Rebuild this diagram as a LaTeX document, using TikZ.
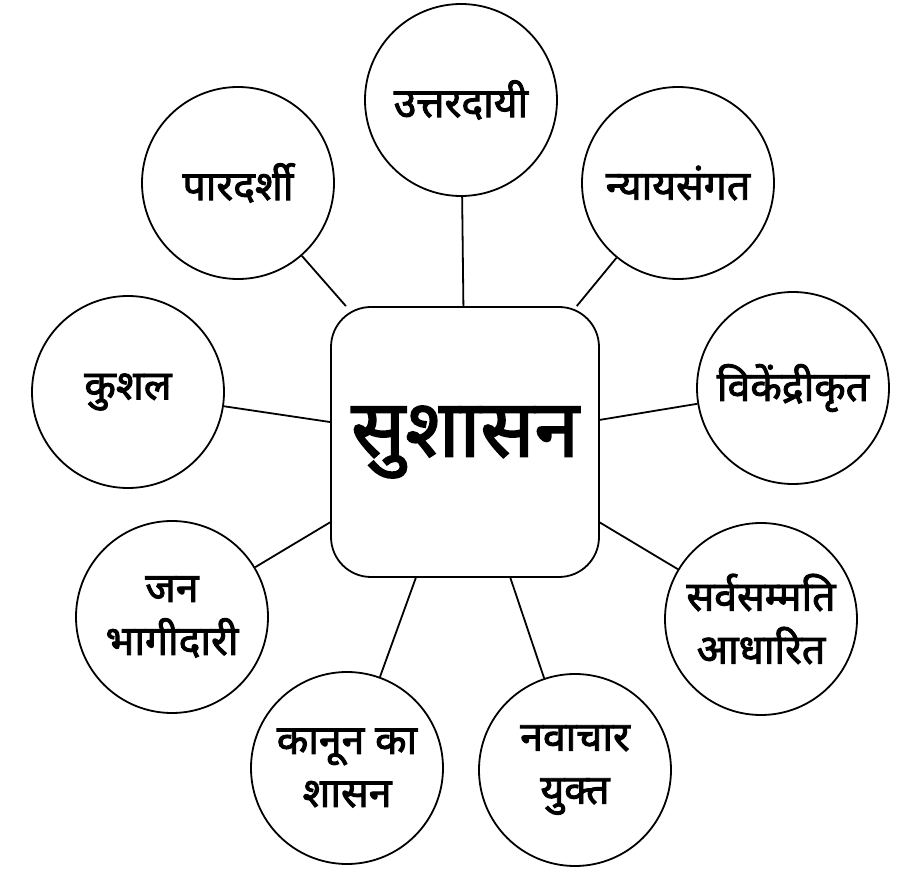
\documentclass[tikz,border=0pt]{standalone}
\usepackage{fontspec}
\newfontfamily\deva[Script=Devanagari,FakeBold=2.2]{Noto Sans}
\begin{document}
\begin{tikzpicture}[x=1pt,y=-1pt,
  leaf/.style={circle,draw,line width=1.8pt,minimum size=192pt,inner sep=0pt,align=center,font=\deva\fontsize{41}{53}\selectfont},
  hub/.style={rectangle,rounded corners=40pt,draw,line width=1.8pt,minimum width=268pt,minimum height=270pt,inner sep=0pt,font=\deva\fontsize{80}{90}\selectfont},
  link/.style={line width=1.8pt}]
\useasboundingbox (0,0) rectangle (922,882);
\node[hub] (c) at (465,442) {सुशासन};
\node[leaf] (a1) at (461,100) {उत्तरदायी};
\node[leaf] (a2) at (678,183) {न्यायसंगत};
\node[leaf] (a3) at (793,388) {विकेंद्रीकृत};
\node[leaf] (a4) at (761,619) {सर्वसम्मति\\आधारित};
\node[leaf] (a5) at (575,770) {नवाचार\\युक्त};
\node[leaf] (a6) at (347,768) {कानून का\\शासन};
\node[leaf] (a7) at (172,617) {जन\\भागीदारी};
\node[leaf] (a8) at (128,392) {कुशल};
\node[leaf] (a9) at (238,183) {पारदर्शी};
\foreach \i in {1,...,9} \draw[link] (a\i) -- (c);
\end{tikzpicture}
\end{document}
